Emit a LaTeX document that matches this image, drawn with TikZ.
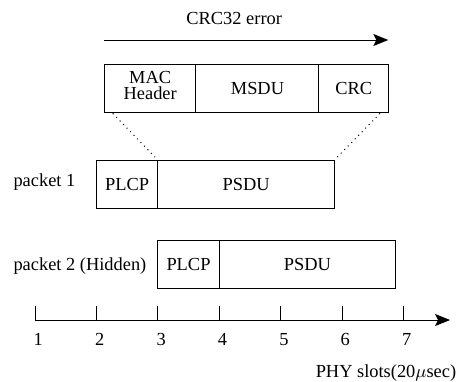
\documentclass[tikz,border=0pt]{standalone}
\usepackage{fontspec}
\setmainfont{Liberation Serif}
\usetikzlibrary{arrows.meta,positioning}
\begin{document}
\begin{tikzpicture}[x=30.7pt,y=4pt,line width=0.5pt,
		every node/.style={font=\fontsize{9.2pt}{9.4pt}\selectfont},
		field/.style={draw,minimum height=24pt,inner sep=0pt,outer sep=0pt,anchor=west},
		tip/.style={-{Stealth[length=7.5pt,width=6pt,inset=1.5pt]}}]
				\useasboundingbox (0.43,-7.625) rectangle (7.938,40);
				% MAC frame
				\node[field,minimum width=45.8pt] (hdr) at (2.13,29) {\begin{tabular}{@{}c@{}}MAC\\[-1.6pt]Header\end{tabular}};
				\node[field,minimum width=61.5pt,right=0pt of hdr] (msdu) {MSDU};
				\node[field,minimum width=34.7pt,right=0pt of msdu] (crc) {CRC};
				\coordinate (err0) at (2.13,35);
				\coordinate (err1) at (6.754,35);
				\draw[tip] (err0) to (err1);
				\node[anchor=base] (err) at (4.244,37) {CRC32 error};
				% packets
				\node[anchor=base west,inner sep=0pt] (pk1) at (0.642,16.67) {packet 1};
				\node[field,minimum width=30.7pt] (plcp1) at (2,17) {PLCP};
				\node[field,minimum width=88.3pt,right=0pt of plcp1] (psdu1) {PSDU};
				\node[anchor=base west,inner sep=0pt] (pk2) at (0.642,6.25) {packet 2 (Hidden)};
				\node[field,minimum width=30.7pt] (plcp2) at (3,7) {PLCP};
				\node[field,minimum width=88.3pt,right=0pt of plcp2] (psdu2) {PSDU};
				\draw[dash pattern=on 0.5pt off 2pt,shorten <=1pt,shorten >=2pt] ([xshift=3.5pt]hdr.south west) to (plcp1.north east);
				\draw[dash pattern=on 0.5pt off 2pt,shorten <=1pt,shorten >=2pt] ([xshift=-3.5pt]crc.south east) to (psdu1.north east);
				% time axis
				\foreach \s in {1,...,7} {
					\draw (\s,0) to (\s,1.7);
					\node[anchor=base] (n\s) at ([xshift=1.65pt]\s,-3.125) {\s};
				}
				\coordinate (o) at (1,0);
				\coordinate (e) at (7.76,0);
				\draw[tip] (o) to (e);
				\node[anchor=base east,inner sep=0pt] (unit) at (7.868,-7.125) {PHY slots(20$\mu$sec)};
			\end{tikzpicture}
\end{document}
